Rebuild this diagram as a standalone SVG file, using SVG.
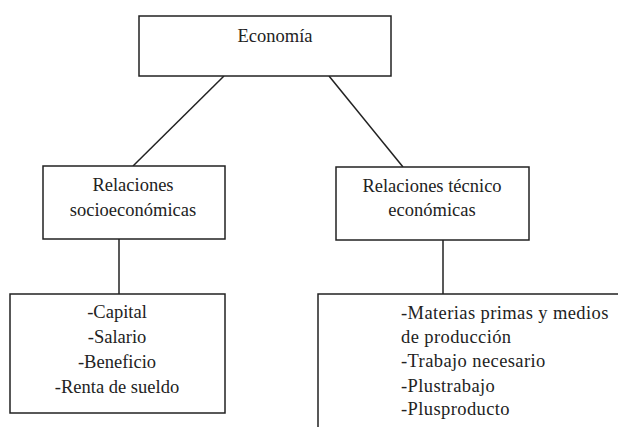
<svg xmlns="http://www.w3.org/2000/svg" width="618" height="427" viewBox="0 0 618 427" font-family="'Liberation Serif', 'DejaVu Serif', serif">
<style>
.box{fill:#fff;stroke:#222;stroke-width:1.5}
.ln{stroke:#222;stroke-width:1.5;fill:none}
text{font-family:'Liberation Serif','DejaVu Serif',serif;font-size:18.5px;fill:#222}
.c{text-anchor:middle}
</style>
<rect width="618" height="427" fill="#fff"/>
<g id="connectors">
<line class="ln" x1="224" y1="76" x2="133" y2="166"/>
<line class="ln" x1="329" y1="76" x2="403" y2="167"/>
<line class="ln" x1="119" y1="239" x2="119" y2="294"/>
<line class="ln" x1="443" y1="240" x2="443" y2="294"/>
</g>
<g id="economia">
<rect class="box" x="139" y="16" width="252" height="60"/>
<text class="c" x="275" y="42">Economía</text>
</g>
<g id="socio">
<rect class="box" x="43" y="166" width="182" height="73"/>
<text class="c" x="133" y="191">Relaciones</text>
<text class="c" x="133" y="216">socioeconómicas</text>
</g>
<g id="tecnico">
<rect class="box" x="336" y="167" width="193" height="73"/>
<text class="c" x="432" y="192">Relaciones técnico</text>
<text class="c" x="432" y="216">económicas</text>
</g>
<g id="socio-list">
<rect class="box" x="10" y="294" width="215" height="119"/>
<text class="c" x="117" y="318">-Capital</text>
<text class="c" x="117" y="343">-Salario</text>
<text class="c" x="117" y="368">-Beneficio</text>
<text class="c" x="117" y="393">-Renta de sueldo</text>
</g>
<g id="tecnico-list">
<path class="ln" d="M318,430 V294 H620"/>
<text x="401" y="319" letter-spacing="0.4">-Materias primas y medios</text>
<text x="401" y="343" letter-spacing="0.4">de producción</text>
<text x="401" y="367" letter-spacing="0.4">-Trabajo necesario</text>
<text x="401" y="392" letter-spacing="0.4">-Plustrabajo</text>
<text x="401" y="415" letter-spacing="0.4">-Plusproducto</text>
</g>
</svg>
